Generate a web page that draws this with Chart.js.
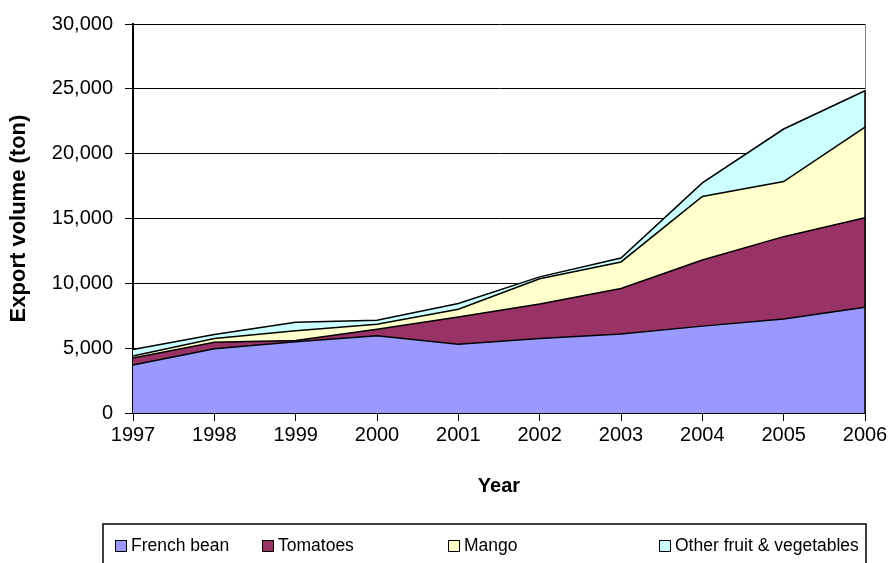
<!DOCTYPE html>
<html>
<head>
<meta charset="utf-8">
<script src="https://cdn.jsdelivr.net/npm/chart.js@4.4.1/dist/chart.umd.min.js"></script>
<style>
  html, body { margin: 0; padding: 0; background: #fff; }
  #chart { display: block; }
</style>
</head>
<body>
<canvas id="chart" width="893" height="563"></canvas>
<script>
// Data — export volume (ton) per year
const YEARS        = ['1997', '1998', '1999', '2000', '2001', '2002', '2003', '2004', '2005', '2006'];
const FRENCH_BEAN  = [3700, 4950, 5500, 5950, 5300, 5750, 6100, 6700, 7250, 8150];
const TOMATOES     = [550, 500, 100, 500, 2100, 2650, 3500, 5100, 6350, 6900];
const MANGO        = [150, 300, 750, 400, 600, 1950, 2050, 4900, 4250, 7000];
const OTHER        = [500, 300, 650, 300, 450, 150, 300, 1050, 4050, 2800];

const SERIES_NAMES  = ['French bean', 'Tomatoes', 'Mango', 'Other fruit & vegetables'];
const SERIES_DATA   = [FRENCH_BEAN, TOMATOES, MANGO, OTHER];
const SERIES_COLORS = ['#9999FF', '#993366', '#FFFFCC', '#CCFFFF'];

const Y_MIN = 0, Y_MAX = 30000, Y_STEP = 5000;

const FONT = "'Liberation Sans', Arial, sans-serif";

// ── Plot frame: grey right edge, black closing edge of the stack ────────────
const framePlugin = {
  id: 'frame',
  beforeDatasetsDraw(chart) {
    const { ctx, chartArea: a } = chart;
    ctx.save();
    ctx.strokeStyle = '#808080';
    ctx.lineWidth = 1;
    ctx.beginPath();
    ctx.moveTo(a.right + 0.5, a.top);
    ctx.lineTo(a.right + 0.5, a.bottom);
    ctx.stroke();
    ctx.restore();
  },
  afterDatasetsDraw(chart) {
    const { ctx, chartArea: a } = chart;
    const metas = chart.getSortedVisibleDatasetMetas();
    const topPt = metas[metas.length - 1].data[YEARS.length - 1];
    ctx.save();
    ctx.strokeStyle = '#000';
    ctx.lineWidth = 1.5;
    ctx.beginPath();
    ctx.moveTo(topPt.x, topPt.y);
    ctx.lineTo(topPt.x, a.bottom);
    ctx.stroke();
    ctx.restore();
  },
};

// ── Boxed legend under the chart (Excel style) ──────────────────────────────
const LEGEND_BOX   = { left: 103, top: 524, right: 866, bottom: 600 };
const LEGEND_SLOTS = [115, 262, 448, 659];

const boxLegendPlugin = {
  id: 'boxLegend',
  afterDraw(chart) {
    const ctx = chart.ctx;
    ctx.save();
    ctx.strokeStyle = '#000';
    ctx.lineWidth = 1.5;
    ctx.strokeRect(LEGEND_BOX.left, LEGEND_BOX.top,
      LEGEND_BOX.right - LEGEND_BOX.left, LEGEND_BOX.bottom - LEGEND_BOX.top);

    ctx.font = `17.5px ${FONT}`;
    ctx.textBaseline = 'middle';
    ctx.textAlign = 'left';
    const cy = 546;
    SERIES_NAMES.forEach((name, i) => {
      const x = LEGEND_SLOTS[i];
      ctx.fillStyle = SERIES_COLORS[i];
      ctx.fillRect(x, cy - 6, 12, 12);
      ctx.strokeStyle = '#000';
      ctx.lineWidth = 1;
      ctx.strokeRect(x + 0.5, cy - 5.5, 11, 11);
      ctx.fillStyle = '#000';
      ctx.fillText(name, x + 16, cy);
    });
    ctx.restore();
  },
};

const datasets = SERIES_NAMES.map((name, i) => ({
  label: name,
  data: SERIES_DATA[i],
  backgroundColor: SERIES_COLORS[i],
  borderColor: '#000',
  borderWidth: 1.5,
  pointRadius: 0,
  pointHoverRadius: 0,
  tension: 0,
  fill: i === 0 ? 'origin' : '-1',
}));

new Chart(document.getElementById('chart'), {
  type: 'line',
  data: { labels: YEARS, datasets },
  options: {
    responsive: false,
    animation: false,
    layout: { padding: { left: 0, top: 19, right: 28, bottom: 53 } },
    plugins: {
      legend: { display: false },
      tooltip: { enabled: false },
    },
    scales: {
      x: {
        type: 'category',
        offset: false,
        grid: { drawOnChartArea: false, drawTicks: true, tickLength: 8, color: '#000', lineWidth: 1 },
        border: { color: '#000', width: 2 },
        ticks: { color: '#000', font: { family: FONT, size: 20 }, padding: 2, maxRotation: 0, autoSkip: false },
        title: {
          display: true, text: 'Year', color: '#000',
          font: { family: FONT, size: 20, weight: 'bold' },
          padding: { top: 0, bottom: 12 },
        },
        afterFit: s => { s.height = 97; },
      },
      y: {
        stacked: true,
        min: Y_MIN,
        max: Y_MAX,
        grid: { color: '#000', lineWidth: 1, tickLength: 8, drawTicks: true },
        border: { color: '#000', width: 2 },
        ticks: {
          stepSize: Y_STEP,
          color: '#000',
          padding: 12,
          font: { family: FONT, size: 20 },
          callback: v => v.toLocaleString('en-US'),
        },
        title: {
          display: true, text: 'Export volume (ton)', color: '#000',
          font: { family: FONT, size: 22, weight: 'bold' },
          padding: { top: 6, bottom: 0 },
        },
        afterFit: s => { s.width = 133; },
      },
    },
  },
  plugins: [framePlugin, boxLegendPlugin],
});
</script>
</body>
</html>
